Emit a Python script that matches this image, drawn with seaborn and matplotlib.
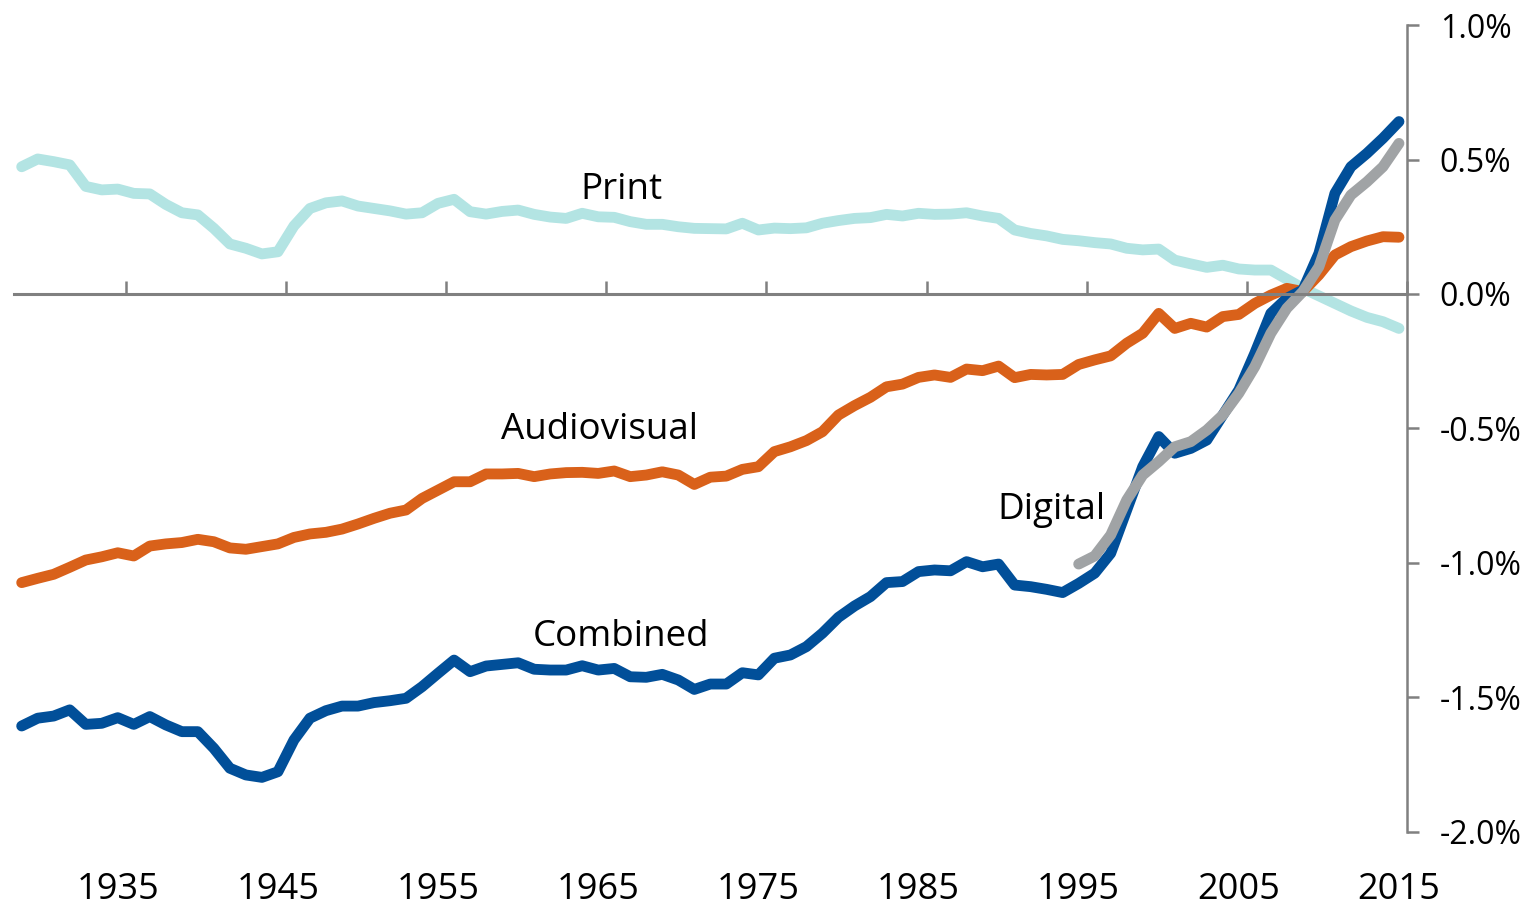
import numpy as np
import pandas as pd
import matplotlib.pyplot as plt
import seaborn as sns

sns.set_style("white")
plt.rcParams['font.family'] = ['Open Sans', 'DejaVu Sans']
plt.rcParams['text.color'] = 'black'

# valores (em %)
years = list(range(1929, 2016))
print_vals = [
    0.473, 0.502, 0.492, 0.480, 0.400, 0.387, 0.390, 0.374, 0.372, 0.333,
    0.302, 0.294, 0.244, 0.186, 0.170, 0.149, 0.157, 0.253, 0.318, 0.339,
    0.346, 0.327, 0.318, 0.309, 0.297, 0.302, 0.337, 0.352, 0.306, 0.297,
    0.307, 0.312, 0.296, 0.286, 0.281, 0.300, 0.287, 0.285, 0.269, 0.259,
    0.259, 0.250, 0.244, 0.243, 0.242, 0.263, 0.238, 0.245, 0.243, 0.246,
    0.263, 0.273, 0.281, 0.284, 0.296, 0.290, 0.300, 0.296, 0.297, 0.302,
    0.290, 0.281, 0.238, 0.225, 0.216, 0.203, 0.198, 0.191, 0.186, 0.170,
    0.164, 0.167, 0.126, 0.112, 0.099, 0.107, 0.093, 0.089, 0.089, 0.055,
    0.021, -0.007, -0.035, -0.063, -0.087, -0.103, -0.128,
]
audiovisual_vals = [
    -1.073, -1.057, -1.042, -1.016, -0.989, -0.977, -0.962, -0.974, -0.937, -0.929,
    -0.924, -0.912, -0.921, -0.944, -0.949, -0.939, -0.929, -0.905, -0.892, -0.886,
    -0.874, -0.855, -0.834, -0.815, -0.803, -0.760, -0.729, -0.698, -0.698, -0.669,
    -0.669, -0.667, -0.679, -0.669, -0.664, -0.663, -0.667, -0.658, -0.679, -0.673,
    -0.661, -0.673, -0.708, -0.681, -0.677, -0.652, -0.642, -0.586, -0.568, -0.545,
    -0.512, -0.450, -0.415, -0.384, -0.345, -0.335, -0.310, -0.301, -0.310, -0.279,
    -0.285, -0.268, -0.311, -0.299, -0.301, -0.299, -0.262, -0.245, -0.230, -0.183,
    -0.146, -0.072, -0.128, -0.109, -0.123, -0.084, -0.076, -0.035, -0.004, 0.021,
    0.009, 0.071, 0.145, 0.176, 0.197, 0.213, 0.211,
]
combined_vals = [
    -1.606, -1.577, -1.569, -1.546, -1.600, -1.596, -1.575, -1.600, -1.571, -1.602,
    -1.627, -1.627, -1.689, -1.763, -1.788, -1.797, -1.776, -1.658, -1.577, -1.549,
    -1.532, -1.532, -1.519, -1.512, -1.503, -1.460, -1.410, -1.361, -1.404, -1.383,
    -1.377, -1.371, -1.395, -1.398, -1.398, -1.382, -1.398, -1.392, -1.423, -1.425,
    -1.414, -1.435, -1.470, -1.450, -1.450, -1.408, -1.416, -1.354, -1.342, -1.311,
    -1.261, -1.202, -1.160, -1.125, -1.073, -1.069, -1.032, -1.026, -1.029, -0.995,
    -1.014, -1.004, -1.082, -1.088, -1.098, -1.110, -1.076, -1.038, -0.964, -0.803,
    -0.642, -0.530, -0.592, -0.574, -0.543, -0.450, -0.357, -0.220, -0.072, -0.016,
    0.015, 0.151, 0.374, 0.473, 0.523, 0.579, 0.641,
]
digital_years = list(range(1995, 2016))
digital_vals = [
    -1.004, -0.974, -0.896, -0.766, -0.673, -0.623, -0.568, -0.549, -0.506, -0.450,
    -0.369, -0.270, -0.146, -0.053, 0.009, 0.101, 0.275, 0.368, 0.417, 0.473, 0.560,
]
label_years = [1935, 1945, 1955, 1965, 1975, 1985, 1995, 2005, 2015]
year_labels = ['1935', '1945', '1955', '1965', '1975', '1985', '1995', '2005', '2015']
ytick_vals = [-2.0, -1.5, -1.0, -0.5, 0.0, 0.5, 1.0]
ytick_labels = ['-2.0%', '-1.5%', '-1.0%', '-0.5%', '0.0%', '0.5%', '1.0%']

cores = {'Print': '#b3e4e3', 'Audiovisual': '#d9611a',
         'Combined': '#014f99', 'Digital': '#a0a3a5'}
cinza = '#808080'

fig = plt.figure(figsize=(15.36, 9.06), dpi=100)
ax = fig.add_axes([0.0089, 0.0817, 0.9071, 0.8907])

estilo = dict(lw=7.8, solid_capstyle='round', solid_joinstyle='round', ax=ax)
sns.lineplot(x=years, y=print_vals, color=cores['Print'], **estilo)
sns.lineplot(x=years, y=audiovisual_vals, color=cores['Audiovisual'], **estilo)
sns.lineplot(x=years, y=combined_vals, color=cores['Combined'], **estilo)
sns.lineplot(x=digital_years, y=digital_vals, color=cores['Digital'], **estilo)

ax.set_xlim(1928.5, 2015.5)
ax.set_ylim(-2.0, 1.0)

# eixo horizontal no zero, ticks entre categorias
ax.spines['bottom'].set_position(('data', 0))
ax.spines['bottom'].set_color(cinza)
ax.spines['bottom'].set_linewidth(2.2)
ax.spines['right'].set_color(cinza)
ax.spines['right'].set_linewidth(1.8)
ax.spines['left'].set_visible(False)
ax.spines['top'].set_visible(False)

ax.set_xticks([y + 0.5 for y in label_years])
ax.tick_params(axis='x', direction='in', length=9.5, width=1.8, color=cinza,
               labelbottom=False, bottom=True)

ax.yaxis.tick_right()
ax.set_yticks(ytick_vals)
ax.set_yticklabels(ytick_labels)
ax.tick_params(axis='y', direction='out', length=8.6, width=1.8, color=cinza,
               labelsize=23, pad=15, labelcolor='black')

for yr, lab in zip(label_years, year_labels):
    ax.text(yr, -0.072, lab, transform=ax.get_xaxis_transform(),
            ha='center', va='center', fontsize=26, color='black')

ax.set_xlabel('')
ax.set_ylabel('')
ax.grid(False)

# rótulos das séries
ax.text(1966.46, 0.387, 'Print', ha='center', va='center', fontsize=26.5, color='black')
ax.text(1965.08, -0.506, 'Audiovisual', ha='center', va='center', fontsize=26.5, color='black')
ax.text(1966.4, -1.275, 'Combined', ha='center', va='center', fontsize=26.5, color='black')
ax.text(1993.27, -0.803, 'Digital', ha='center', va='center', fontsize=26.5, color='black')

fig.savefig('out.png', dpi=100)
